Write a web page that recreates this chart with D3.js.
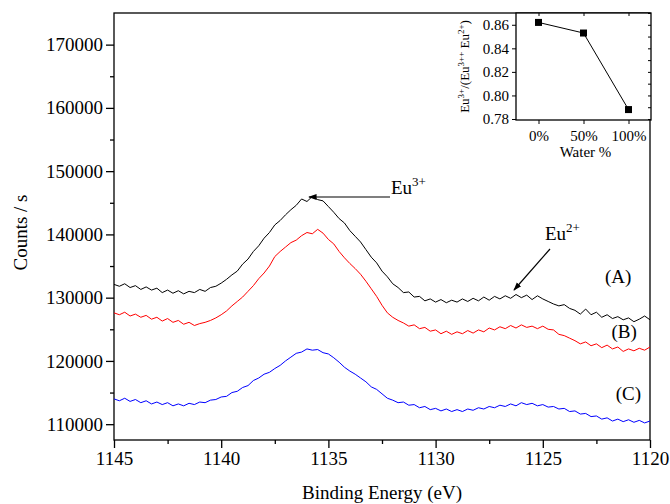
<!DOCTYPE html>
<html>
<head>
<meta charset="utf-8">
<script src="https://cdn.jsdelivr.net/npm/d3@7"></script>
<style>
  body { margin: 0; background: #fff; }
</style>
</head>
<body>
<div id="xps_chart"></div>
<script>
// binding energy grid (eV) and counts / s for the three spectra
var energy = [1145,1144.75,1144.5,1144.25,1144,1143.75,1143.5,1143.25,1143,1142.75,1142.5,1142.25,1142,1141.75,1141.5,1141.25,1141,1140.75,1140.5,1140.25,
  1140,1139.75,1139.5,1139.25,1139,1138.75,1138.5,1138.25,1138,1137.75,1137.5,1137.25,1137,1136.75,1136.5,1136.25,1136,1135.75,1135.5,1135.25,
  1135,1134.75,1134.5,1134.25,1134,1133.75,1133.5,1133.25,1133,1132.75,1132.5,1132.25,1132,1131.75,1131.5,1131.25,1131,1130.75,1130.5,1130.25,
  1130,1129.75,1129.5,1129.25,1129,1128.75,1128.5,1128.25,1128,1127.75,1127.5,1127.25,1127,1126.75,1126.5,1126.25,1126,1125.75,1125.5,1125.25,
  1125,1124.75,1124.5,1124.25,1124,1123.75,1123.5,1123.25,1123,1122.75,1122.5,1122.25,1122,1121.75,1121.5,1121.25,1121,1120.75,1120.5,1120.25,1120];

var countsA = [132100,131800,132200,131600,131900,131300,131700,131200,131500,130800,131200,130700,131100,130600,131000,130800,131300,131000,131600,131800,
  132300,132900,133600,134200,135300,136100,137300,138200,139400,140300,141500,142200,143100,143900,144600,145600,145200,146000,145500,145300,
  144400,143500,142500,141800,140600,139700,138800,137600,136400,135500,134200,133300,132200,131600,130800,130900,130100,130200,129500,129800,
  129300,129700,129200,129600,129300,129800,129400,129900,129500,130100,129600,130200,129800,130300,129900,130500,130000,130400,129700,130300,
  129800,129400,129000,128700,128900,128300,128000,127400,128200,127300,127700,126900,127300,126700,127000,126500,126800,126200,126600,127100,126500];

var countsB = [127600,127300,127700,127100,127400,126900,127200,126600,126900,126300,126700,126100,126400,125800,126100,125600,125900,126100,126400,126800,
  127300,127900,128700,129400,130100,131000,131900,133000,133900,135000,136500,137300,138000,138700,139100,139800,140300,140100,140800,140200,
  139200,138500,137300,136300,135400,134600,133700,132600,131400,130200,128800,127600,126900,126400,126000,125500,125700,125100,125300,124700,
  124900,124300,124700,124200,124600,124300,124800,124400,124900,124600,125200,124900,125400,125100,125600,125200,125700,125300,125500,125100,
  125500,125000,124900,124200,124000,123600,123200,122700,123000,122400,122700,122100,122500,121900,122200,121500,121900,121600,122000,121700,122200];

var countsC = [114000,113700,114100,113600,113900,113400,113700,113200,113500,113100,113400,112900,113200,112900,113300,113100,113500,113400,113800,113900,
  114300,114400,115000,115200,115800,116100,116900,117300,117900,118200,118800,119300,120000,120600,121200,121400,121900,121700,121800,121300,
  121100,120500,119800,119000,118400,117900,117300,116700,115900,115500,114800,114100,113800,113400,113500,113000,113100,112600,112800,112300,
  112500,112100,112400,112000,112300,112000,112400,112200,112600,112400,112800,112600,113000,112800,113200,112900,113400,113100,113300,112900,
  113100,112700,112800,112400,112500,112000,112100,111600,111700,111200,111300,110800,111000,110500,110800,110400,110700,110300,110600,110200,110500];

var seriesNames = ["(A)", "(B)", "(C)"];
var seriesColors = ["#000000", "#ff0000", "#0000ff"];

var xTicks = [1145, 1140, 1135, 1130, 1125, 1120];
var xMinor = [1142.5, 1137.5, 1132.5, 1127.5, 1122.5];
var yTicks = [110000, 120000, 130000, 140000, 150000, 160000, 170000];
var yMinor = [115000, 125000, 135000, 145000, 155000, 165000];

// inset: Eu3+/(Eu3+ + Eu2+) vs water content
var waterCats = ["0%", "50%", "100%"];
var euRatio = [0.862, 0.853, 0.788];
var insetTicks = [0.78, 0.80, 0.82, 0.84, 0.86];
var insetMinor = [0.79, 0.81, 0.83, 0.85, 0.87];

var W = 670, H = 504;
var box = {left: 114, right: 650, top: 13, bottom: 440};
var serif = "'Liberation Serif', 'Times New Roman', Tinos, 'DejaVu Serif', serif";

var svg = d3.select("#xps_chart").append("svg")
    .attr("width", W)
    .attr("height", H)
    .style("font-family", serif);

var x = d3.scaleLinear().domain([1145, 1120]).range([box.left, box.right]);
var y = d3.scaleLinear().domain([107500, 175000]).range([box.bottom, box.top]);

// x axis, major + minor ticks
svg.append("g")
    .attr("transform", "translate(0," + box.bottom + ")")
    .call(d3.axisBottom(x).tickValues(xTicks).tickSize(8).tickPadding(4).tickFormat(d3.format("d")));
svg.append("g")
    .attr("transform", "translate(0," + box.bottom + ")")
    .call(d3.axisBottom(x).tickValues(xMinor).tickSize(4).tickFormat(""));

// y axis
svg.append("g")
    .attr("transform", "translate(" + box.left + ",0)")
    .call(d3.axisLeft(y).tickValues(yTicks).tickSize(8).tickPadding(3).tickFormat(d3.format("d")));
svg.append("g")
    .attr("transform", "translate(" + box.left + ",0)")
    .call(d3.axisLeft(y).tickValues(yMinor).tickSize(4).tickFormat(""));

svg.selectAll(".domain").remove();
svg.selectAll("g").attr("font-family", null);
svg.selectAll(".tick line").attr("stroke", "#000").attr("stroke-width", 1.3);
svg.selectAll(".tick text").attr("font-size", 19).attr("fill", "#000");

// frame
svg.append("rect")
    .attr("x", box.left).attr("y", box.top)
    .attr("width", box.right - box.left).attr("height", box.bottom - box.top)
    .attr("fill", "none").attr("stroke", "#000").attr("stroke-width", 1.3);

// spectra
var line = d3.line()
    .x(function(d, i) { return x(energy[i]); })
    .y(function(d) { return y(d); });

[countsA, countsB, countsC].forEach(function(s, k) {
  svg.append("path")
      .datum(s)
      .attr("fill", "none")
      .attr("stroke", seriesColors[k])
      .attr("stroke-width", 1)
      .attr("d", line);
});

// series labels
var labelPos = [[1122.1, 132300], [1121.8, 123700], [1121.6, 113800]];
seriesNames.forEach(function(n, k) {
  svg.append("text")
      .attr("x", x(labelPos[k][0])).attr("y", y(labelPos[k][1]))
      .attr("font-size", 19)
      .text(n);
});

// axis titles
svg.append("text")
    .attr("x", (box.left + box.right) / 2).attr("y", 499)
    .attr("text-anchor", "middle")
    .attr("font-size", 19)
    .text("Binding Energy (eV)");

svg.append("text")
    .attr("transform", "translate(27," + ((box.top + box.bottom) / 2 + 6) + ") rotate(-90)")
    .attr("text-anchor", "middle")
    .attr("font-size", 19)
    .text("Counts / s");

// arrow annotations
var defs = svg.append("defs");
defs.append("marker")
    .attr("id", "arrowhead")
    .attr("viewBox", "0 0 10 10")
    .attr("refX", 9).attr("refY", 5)
    .attr("markerWidth", 7).attr("markerHeight", 7)
    .attr("orient", "auto")
    .append("path").attr("d", "M0,1.5L10,5L0,8.5Z").attr("fill", "#000");

svg.append("line")
    .attr("x1", 390).attr("y1", 197).attr("x2", 309).attr("y2", 197)
    .attr("stroke", "#000").attr("stroke-width", 1.2)
    .attr("marker-end", "url(#arrowhead)");
svg.append("line")
    .attr("x1", 550).attr("y1", 249).attr("x2", 514).attr("y2", 290)
    .attr("stroke", "#000").attr("stroke-width", 1.2)
    .attr("marker-end", "url(#arrowhead)");

function euLabel(px, py, charge) {
  var t = svg.append("text").attr("x", px).attr("y", py).attr("font-size", 19);
  t.append("tspan").text("Eu");
  t.append("tspan").attr("dy", -8).attr("font-size", 13).text(charge);
}
euLabel(391, 194, "3+");
euLabel(545, 240, "2+");

// inset
var inset = {left: 516, right: 651, top: 13, bottom: 120};
var ix = d3.scalePoint().domain(waterCats).range([inset.left, inset.right]).padding(0.5);
var iy = d3.scaleLinear().domain([0.78, 0.87]).range([inset.bottom - 1, inset.top]);

var gi = svg.append("g");
gi.append("rect")
    .attr("x", inset.left).attr("y", inset.top)
    .attr("width", inset.right - inset.left).attr("height", inset.bottom - inset.top)
    .attr("fill", "#fff").attr("stroke", "#000").attr("stroke-width", 1.3);

gi.append("g")
    .attr("transform", "translate(0," + inset.bottom + ")")
    .call(d3.axisBottom(ix).tickSize(4).tickPadding(6));
gi.append("g")
    .attr("transform", "translate(0," + inset.top + ")")
    .call(d3.axisBottom(ix).tickSize(3).tickFormat(""));
gi.append("g")
    .attr("transform", "translate(" + inset.left + ",0)")
    .call(d3.axisLeft(iy).tickValues(insetTicks).tickSize(4).tickPadding(3).tickFormat(d3.format(".2f")));
gi.append("g")
    .attr("transform", "translate(" + inset.right + ",0)")
    .call(d3.axisLeft(iy).tickValues(insetTicks.concat(insetMinor)).tickSize(3).tickFormat(""));

gi.selectAll(".domain").remove();
gi.selectAll("g").attr("font-family", null);
gi.selectAll(".tick line").attr("stroke", "#000").attr("stroke-width", 1);
gi.selectAll(".tick text").attr("font-size", 15).attr("fill", "#000");

gi.append("path")
    .datum(euRatio)
    .attr("fill", "none").attr("stroke", "#000").attr("stroke-width", 1)
    .attr("d", d3.line().x(function(d, i) { return ix(waterCats[i]); }).y(function(d) { return iy(d); }));

gi.selectAll(".sq")
    .data(euRatio)
    .enter().append("rect")
    .attr("class", "sq")
    .attr("x", function(d, i) { return ix(waterCats[i]) - 3.5; })
    .attr("y", function(d) { return iy(d) - 3.5; })
    .attr("width", 7).attr("height", 7)
    .attr("fill", "#000");

gi.append("text")
    .attr("x", (inset.left + inset.right) / 2 + 2).attr("y", 157)
    .attr("text-anchor", "middle")
    .attr("font-size", 15)
    .text("Water %");

var yl = gi.append("text")
    .attr("transform", "translate(469," + ((inset.top + inset.bottom) / 2) + ") rotate(-90)")
    .attr("text-anchor", "middle")
    .attr("font-size", 13);
yl.append("tspan").text("Eu");
yl.append("tspan").attr("dy", -5).attr("font-size", 9).text("3+");
yl.append("tspan").attr("dy", 5).text("/(Eu");
yl.append("tspan").attr("dy", -5).attr("font-size", 9).text("3++");
yl.append("tspan").attr("dy", 5).text(" Eu");
yl.append("tspan").attr("dy", -5).attr("font-size", 9).text("2+");
yl.append("tspan").attr("dy", 5).text(")");
</script>
</body>
</html>
